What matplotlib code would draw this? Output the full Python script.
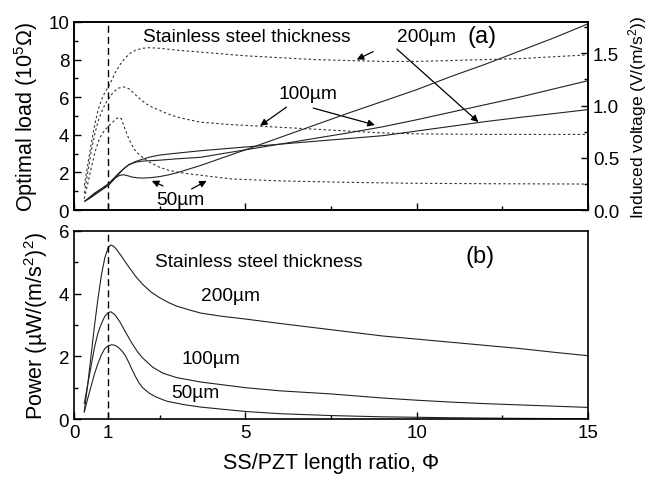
import matplotlib
matplotlib.use('Agg')
import matplotlib.pyplot as plt
from matplotlib.ticker import MultipleLocator, FixedLocator

plt.rcParams['font.family'] = ['Liberation Sans', 'DejaVu Sans']
plt.rcParams['mathtext.fontset'] = 'custom'
plt.rcParams['mathtext.rm'] = 'Liberation Sans'
plt.rcParams['mathtext.it'] = 'Liberation Sans:italic'

# ---- (a) optimal load (dashed, left axis, 10^5 ohm) ----
x_load200 = [0.3, 0.4, 0.5, 0.6, 0.7, 0.8, 0.9, 1.0, 1.1, 1.2, 1.35, 1.5, 1.65, 1.8, 2.0, 2.2, 2.5, 3, 4, 5, 6,
             7, 8, 9, 10, 11, 12, 13, 14, 15]
load200 = [1.3, 2.4, 3.5, 4.5, 5.3, 5.85, 6.25, 6.55, 6.9, 7.3, 7.75, 8.1, 8.35, 8.5, 8.6, 8.63, 8.6, 8.5, 8.35,
           8.2, 8.1, 8.0, 7.95, 7.9, 7.9, 7.95, 8.0, 8.05, 8.15, 8.25]

x_load100 = [0.3, 0.4, 0.5, 0.6, 0.7, 0.8, 0.9, 1.0, 1.1, 1.2, 1.3, 1.45, 1.6, 1.75, 1.9, 2.1, 2.3, 2.5, 2.75, 3,
             3.35, 3.7, 4.5, 5.5, 7, 8, 9, 10, 12, 15]
load100 = [0.9, 2.0, 3.1, 4.0, 4.7, 5.2, 5.6, 5.9, 6.15, 6.35, 6.48, 6.55, 6.45, 6.2, 5.95, 5.65, 5.45, 5.3, 5.1,
           4.95, 4.8, 4.67, 4.55, 4.45, 4.3, 4.2, 4.1, 4.05, 4.02, 4.02]

x_load50 = [0.3, 0.4, 0.5, 0.6, 0.7, 0.8, 0.9, 1.0, 1.1, 1.2, 1.3, 1.38, 1.45, 1.55, 1.65, 1.75, 1.9, 2.05, 2.2,
            2.5, 2.75, 3.0, 3.35, 3.7, 4.6, 6, 8, 10, 12, 15]
load50 = [0.6, 1.4, 2.2, 3.0, 3.6, 4.0, 4.25, 4.45, 4.62, 4.8, 4.93, 4.85, 4.5, 4.0, 3.6, 3.25, 2.95, 2.72, 2.55,
          2.27, 2.12, 2.02, 1.92, 1.85, 1.65, 1.55, 1.47, 1.42, 1.4, 1.38]

# ---- (a) induced voltage (solid, right axis, V/(m/s^2)) ----
x_v50 = [0.32, 0.45, 0.6, 0.8, 1.0, 1.1, 1.2, 1.32, 1.44, 1.57, 1.7, 1.85, 2.0, 2.25, 2.5, 2.75, 3.0, 3.68, 5, 6,
         7, 8, 9, 10, 11, 12, 13, 14, 15]
volt50 = [0.086, 0.11, 0.144, 0.19, 0.234, 0.27, 0.306, 0.33, 0.338, 0.328, 0.315, 0.308, 0.306, 0.31, 0.32,
          0.336, 0.356, 0.425, 0.576, 0.693, 0.81, 0.927, 1.039, 1.152, 1.278, 1.395, 1.521, 1.647, 1.782]

x_v100 = [0.32, 0.6, 0.8, 1.0, 1.15, 1.3, 1.45, 1.6, 1.8, 2.0, 2.5, 3, 3.68, 5, 6, 7, 8, 9, 10, 11, 12, 13, 14, 15]
volt100 = [0.086, 0.153, 0.195, 0.243, 0.29, 0.342, 0.395, 0.435, 0.458, 0.468, 0.477, 0.49, 0.504, 0.576, 0.63,
           0.684, 0.738, 0.796, 0.864, 0.936, 1.008, 1.08, 1.159, 1.238]

x_v200 = [0.32, 0.6, 0.8, 1.0, 1.15, 1.3, 1.45, 1.6, 1.8, 2.0, 2.25, 2.5, 3, 3.68, 5, 6, 7, 8, 9, 10, 11, 12, 13,
          14, 15]
volt200 = [0.086, 0.162, 0.205, 0.252, 0.3, 0.351, 0.395, 0.432, 0.465, 0.486, 0.51, 0.526, 0.544, 0.567, 0.603,
           0.63, 0.657, 0.684, 0.711, 0.756, 0.801, 0.846, 0.886, 0.923, 0.961]

# ---- (b) power (uW/(m/s^2)^2) ----
x_p200 = [0.3, 0.4, 0.5, 0.6, 0.7, 0.8, 0.9, 1.0, 1.07, 1.15, 1.25, 1.4, 1.6, 1.8, 2.0, 2.25, 2.5, 2.75, 3.0, 3.4,
          3.7, 4.3, 5, 6, 7.5, 9, 10, 11, 12, 13, 14, 15]
pow200 = [0.25, 1.1, 2.05, 3.0, 3.85, 4.6, 5.15, 5.48, 5.55, 5.52, 5.4, 5.17, 4.85, 4.55, 4.3, 4.05, 3.87, 3.72,
          3.6, 3.47, 3.38, 3.28, 3.19, 3.05, 2.85, 2.65, 2.55, 2.45, 2.35, 2.25, 2.13, 2.02]

x_p100 = [0.3, 0.4, 0.5, 0.6, 0.7, 0.8, 0.9, 1.0, 1.08, 1.2, 1.35, 1.5, 1.7, 1.85, 2.0, 2.3, 2.6, 3.0, 3.7, 5, 6,
          7.5, 9, 10, 11, 12, 13, 14, 15]
pow100 = [0.5, 1.1, 1.7, 2.3, 2.75, 3.05, 3.28, 3.4, 3.42, 3.32, 3.08, 2.78, 2.4, 2.15, 1.95, 1.65, 1.46, 1.32,
          1.18, 1.0, 0.9, 0.8, 0.67, 0.6, 0.54, 0.49, 0.45, 0.41, 0.37]

x_p50 = [0.3, 0.4, 0.5, 0.6, 0.7, 0.8, 0.9, 1.0, 1.1, 1.2, 1.3, 1.4, 1.5, 1.6, 1.7, 1.8, 1.9, 2.0, 2.2, 2.4, 2.7,
         3.2, 3.7, 5, 6, 7.5, 9, 11, 13, 15]
pow50 = [0.22, 0.65, 1.05, 1.45, 1.78, 2.05, 2.25, 2.34, 2.37, 2.35, 2.28, 2.17, 2.02, 1.8, 1.56, 1.34, 1.15,
         1.0, 0.82, 0.7, 0.57, 0.46, 0.38, 0.24, 0.17, 0.11, 0.07, 0.04, 0.02, 0.01]

x_ticks = [0, 1, 5, 10, 15]
x_ticklabels = ['0', '1', '5', '10', '15']

fig = plt.figure(figsize=(6.65, 4.81), dpi=100)
ax1 = fig.add_axes([0.1113, 0.5613, 0.773, 0.391])
ax3 = fig.add_axes([0.1113, 0.1268, 0.773, 0.3909])

lc = '#222222'
dash = dict(color='#333333', lw=0.8, linestyle=(0, (2.2, 2.2)))
sol = dict(color=lc, lw=0.8)

ax1.plot(x_load200, load200, **dash)
ax1.plot(x_load100, load100, **dash)
ax1.plot(x_load50, load50, **dash)
ax1.axvline(1, color='black', lw=1.0, linestyle=(0, (5, 3)))

ax2 = ax1.twinx()
ax2.plot(x_v50, volt50, **sol)
ax2.plot(x_v100, volt100, **sol)
ax2.plot(x_v200, volt200, **sol)

ax3.plot(x_p200, pow200, **sol)
ax3.plot(x_p100, pow100, **sol)
ax3.plot(x_p50, pow50, **sol)
ax3.axvline(1, color='black', lw=1.0, linestyle=(0, (5, 3)))

for ax in (ax1, ax3):
    ax.set_xlim(0, 15)
    ax.xaxis.set_major_locator(FixedLocator(x_ticks))
    ax.xaxis.set_minor_locator(FixedLocator([2.5, 7.5, 12.5]))
ax1.set_xticklabels([])
ax3.set_xticklabels(x_ticklabels)

ax1.set_ylim(0, 10)
ax1.yaxis.set_major_locator(MultipleLocator(2))
ax1.yaxis.set_minor_locator(MultipleLocator(1))
ax2.set_ylim(0, 1.8)
ax2.yaxis.set_minor_locator(MultipleLocator(0.25))
ax2.set_yticks([0, 0.5, 1.0, 1.5])
ax2.set_yticklabels(['0.0', '0.5', '1.0', '1.5'])
ax3.set_ylim(0, 6)
ax3.yaxis.set_major_locator(MultipleLocator(2))
ax3.yaxis.set_minor_locator(MultipleLocator(1))

for ax in (ax1, ax2, ax3):
    for s in ax.spines.values():
        s.set_linewidth(1.2)
    ax.tick_params(which='both', direction='in', labelsize=13.5, width=1.0)
    ax.tick_params(which='major', length=5)
    ax.tick_params(which='minor', length=3)
ax1.tick_params(which='both', right=False, top=False)
ax2.tick_params(which='both', left=False, right=True, top=False)
ax3.tick_params(which='both', right=False, top=False)

ax1.set_ylabel('Optimal load (10$^5$Ω)', fontsize=15.5, labelpad=6)
ax2.set_ylabel('Induced voltage (V/(m/s$^2$))', fontsize=12.5, labelpad=5)
ax3.set_ylabel('Power (µW/(m/s$^2$)$^2$)', fontsize=15.5, labelpad=6)
ax3.set_xlabel('SS/PZT length ratio, Φ', fontsize=15.5, labelpad=8)

fs = 13.8
ax1.text(2.0, 9.25, 'Stainless steel thickness', fontsize=fs, va='center')
ax1.text(9.42, 9.25, '200µm', fontsize=fs, va='center')
ax1.text(11.9, 9.25, '(a)', fontsize=17, va='center', ha='center')
ax1.text(6.84, 6.17, '100µm', fontsize=fs, va='center', ha='center')
ax1.text(3.11, 0.58, '50µm', fontsize=fs, va='center', ha='center')

arr = dict(arrowstyle='-|>', color='black', lw=0.9, mutation_scale=10, shrinkA=0, shrinkB=0)
ax1.annotate('', xy=(5.43, 4.48), xytext=(6.2, 5.47), arrowprops=arr)
ax1.annotate('', xy=(8.78, 4.52), xytext=(6.98, 5.42), arrowprops=arr)
ax1.annotate('', xy=(8.25, 8.0), xytext=(8.73, 8.42), arrowprops=arr)
ax1.annotate('', xy=(11.8, 4.68), xytext=(9.42, 8.56), arrowprops=arr)
ax1.annotate('', xy=(2.27, 1.55), xytext=(2.6, 1.28), arrowprops=arr)
ax1.annotate('', xy=(3.87, 1.55), xytext=(3.43, 1.12), arrowprops=arr)

ax3.text(2.36, 5.02, 'Stainless steel thickness', fontsize=fs, va='center')
ax3.text(4.57, 3.94, '200µm', fontsize=fs, va='center', ha='center')
ax3.text(3.99, 1.94, '100µm', fontsize=fs, va='center', ha='center')
ax3.text(3.55, 0.85, '50µm', fontsize=fs, va='center', ha='center')
ax3.text(11.85, 5.21, '(b)', fontsize=17, va='center', ha='center')

fig.savefig('out.png', dpi=100)
